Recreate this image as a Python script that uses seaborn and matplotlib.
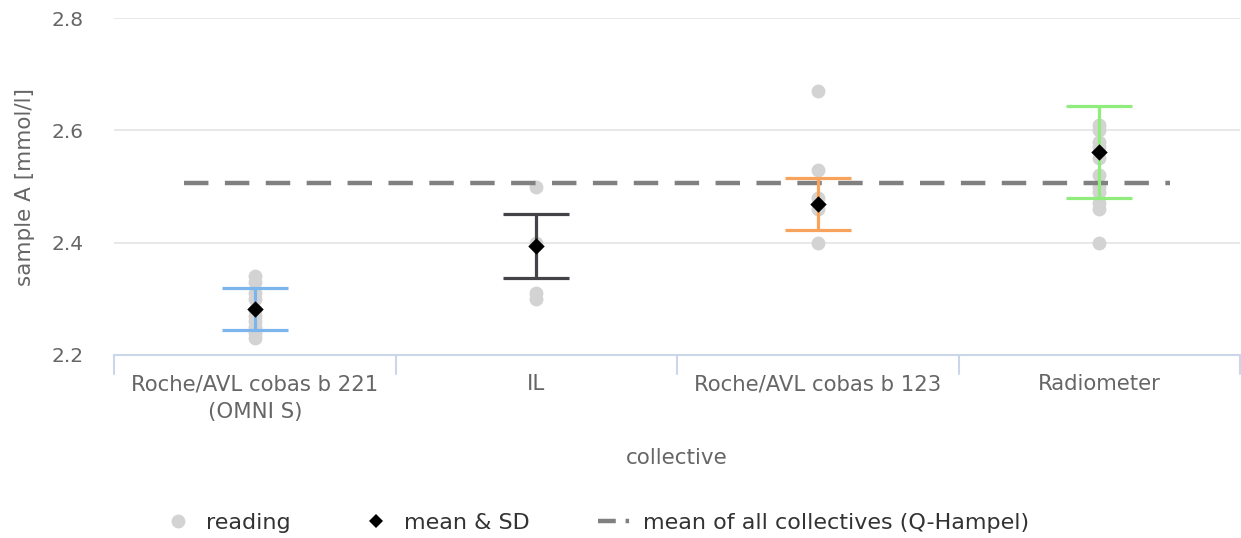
import numpy as np
import pandas as pd
import matplotlib
matplotlib.use("Agg")
import matplotlib.pyplot as plt
from matplotlib.lines import Line2D
import seaborn as sns

categories = ["Roche/AVL cobas b 221\n(OMNI S)", "IL", "Roche/AVL cobas b 123", "Radiometer"]
readings_g1 = [2.34, 2.33, 2.31, 2.30, 2.28, 2.27, 2.26, 2.25, 2.24, 2.23]
readings_g2 = [2.50, 2.40, 2.31, 2.30]
readings_g3 = [2.67, 2.53, 2.48, 2.46, 2.40]
readings_g4 = [2.61, 2.60, 2.58, 2.57, 2.55, 2.52, 2.50, 2.49, 2.47, 2.46, 2.40]
means = [2.282, 2.394, 2.469, 2.561]
sds = [0.0375, 0.0575, 0.0465, 0.082]
overall_mean = 2.506
series_colors = ["#7cb5ec", "#434348", "#f7a35c", "#90ed7d"]
yticks = [2.2, 2.4, 2.6, 2.8]

rows = []
for cat, vals in zip(categories, [readings_g1, readings_g2, readings_g3, readings_g4]):
    for v in vals:
        rows.append({"collective": cat, "value": v})
df = pd.DataFrame(rows)
mdf = pd.DataFrame({"collective": categories, "mean": means, "sd": sds})

sns.set_theme(style="white")
plt.rcParams["font.family"] = ["DejaVu Sans"]
text_color = "#666666"

fig = plt.figure(figsize=(12.41, 5.38), dpi=100)
ax = fig.add_axes([114 / 1241, 1 - 355 / 538, (1240 - 114) / 1241, (355 - 18) / 538])

for y in yticks[1:]:
    ax.axhline(y, color="#e6e6e6", lw=1.3, zorder=0)

sns.stripplot(data=df, x="collective", y="value", order=categories, jitter=False,
              color="#d3d3d3", size=10, linewidth=0, ax=ax, zorder=2)

ax.hlines(overall_mean, -0.25, 3.25, colors="#808080", lw=3.2,
          linestyles=(0, (5.5, 3.7)), zorder=3)

for i, (m, s, c) in enumerate(zip(means, sds, series_colors)):
    ax.errorbar(i, m, yerr=s, fmt="none", ecolor=c, elinewidth=2.3,
                capsize=24, capthick=2.3, zorder=4)

sns.scatterplot(data=mdf, x="collective", y="mean", marker="D", color="black",
                s=70, linewidth=0, ax=ax, zorder=5, legend=False)

ax.set_xlim(-0.5, 3.5)
ax.set_ylim(2.2, 2.8)
ax.set_yticks(yticks)
ax.set_yticklabels([f"{t:.1f}" for t in yticks])
ax.tick_params(axis="y", length=0, pad=22, labelsize=14.5, labelcolor=text_color)
ax.tick_params(axis="x", length=0, pad=14, labelsize=15.3, labelcolor=text_color)
for lbl in ax.get_xticklabels():
    lbl.set_linespacing(1.45)
for sp in ["top", "right", "left"]:
    ax.spines[sp].set_visible(False)
ax.spines["bottom"].set_color("#ccd6eb")
ax.spines["bottom"].set_linewidth(1.5)
ax.spines["bottom"].set_zorder(1)

# category band ticks
for b in [-0.5, 0.5, 1.5, 2.5, 3.5]:
    ax.plot([b, b], [0, -0.055], transform=ax.get_xaxis_transform(), color="#ccd6eb",
            lw=1.5, clip_on=False)

ax.set_xlabel("collective", fontsize=15.5, color=text_color, labelpad=19)
ax.set_ylabel("sample A [mmol/l]", fontsize=15.5, color=text_color, labelpad=12)

handles = [
    Line2D([], [], marker="o", color="none", markerfacecolor="#d3d3d3", markeredgewidth=0, markersize=10),
    Line2D([], [], marker="D", color="none", markerfacecolor="black", markeredgewidth=0, markersize=7.5),
    Line2D([], [], color="#808080", lw=3.2, linestyle=(0, (4.0, 2.2, 0.8, 20))),
]
labels = ["reading", "mean & SD", "mean of all collectives (Q-Hampel)"]
fig.legend(handles, labels, loc="center", bbox_to_anchor=(0.4796, 1 - 523 / 538), ncol=3,
           frameon=False, fontsize=16, labelcolor="#333333", handlelength=1.5,
           columnspacing=3.1, handletextpad=0.5)

fig.savefig("out.png", dpi=100)
